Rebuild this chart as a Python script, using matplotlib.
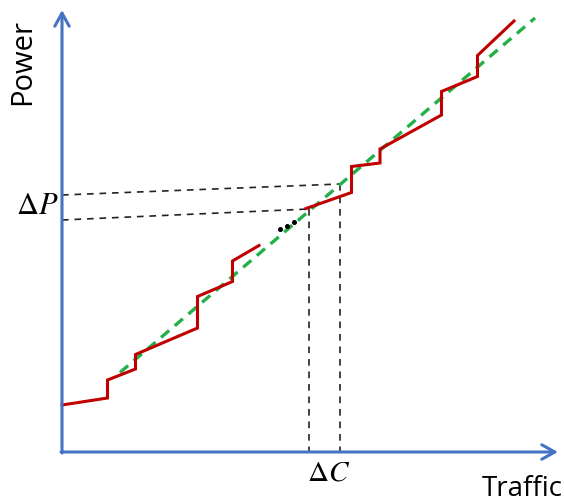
import matplotlib
matplotlib.use("Agg")
import matplotlib.pyplot as plt

plt.rcParams['mathtext.fontset'] = 'stix'

# Data (traffic, power) in arbitrary units
red1_traffic = [0.0, 9.1, 9.1, 14.7, 14.7, 27.1, 27.1, 34.1, 34.1, 39.4]
red1_power   = [9.4, 10.8, 14.4, 16.6, 19.5, 24.8, 31.1, 34.1, 38.2, 41.3]

red2_traffic = [48.8, 57.9, 57.9, 63.6, 63.6, 75.9, 75.9, 83.1, 83.1, 90.4]
red2_power   = [48.7, 51.9, 57.1, 57.8, 60.6, 67.4, 72.1, 75.1, 79.3, 86.2]

fit_traffic = [11.6, 94.6]
fit_power   = [15.9, 86.8]

dots_traffic = [43.6, 45.1, 46.5]
dots_power   = [44.6, 45.3, 46.1]

# Guide lines: (traffic, power) corners of dashed projections
lowP_left, lowP_right = 46.4, 48.6
highP_left, highP_right = 51.4, 53.6
lowC, highC = 49.4, 55.6

x_axis_end = 99.2
y_axis_end = 88.4

fig = plt.figure(figsize=(5.64, 5.02), dpi=100)
ax = fig.add_axes([0, 0, 1, 1])
ax.set_xlim(-12.4, 100.4)
ax.set_ylim(-9.8, 90.6)
ax.axis('off')

blue = '#4472C4'
red = '#C00000'
green = '#22B04B'

# dashed guide lines
kw = dict(color='#222222', lw=1.2, linestyle=(0, (4, 3.5)))
ax.plot([0, highC], [highP_left, highP_right], **kw)
ax.plot([highC, highC], [highP_right, 0], **kw)
ax.plot([0, lowC], [lowP_left, lowP_right], **kw)
ax.plot([lowC, lowC], [lowP_right, 0], **kw)

# fit line
ax.plot(fit_traffic, fit_power, color=green, lw=2.4, linestyle=(0, (3.2, 2.2)))

# stepped power lines
ax.plot(red1_traffic, red1_power, color=red, lw=2.2, solid_joinstyle='miter')
ax.plot(red2_traffic, red2_power, color=red, lw=2.2, solid_joinstyle='miter')

ax.plot(dots_traffic, dots_power, 'o', color='black', ms=2.6)

# axes arrows
arrow = dict(arrowstyle='->,head_length=0.47,head_width=0.26', color=blue,
             lw=2.2, mutation_scale=20, shrinkA=0, shrinkB=0)
ax.annotate('', xy=(0, y_axis_end), xytext=(0, -0.2), arrowprops=arrow)
ax.annotate('', xy=(x_axis_end, 0), xytext=(-0.2, 0), arrowprops=arrow)

# labels
ax.text(-4.9, 49.4, r'$\Delta P$', fontsize=22, ha='center', va='center')
ax.text(53.4, -3.9, r'$\Delta C$', fontsize=21, ha='center', va='center')
ax.text(84.0, -8.6, 'Traffic', fontsize=20, family='Open Sans',
        ha='left', va='baseline')
ax.text(-7.8, 78.2, 'Power', fontsize=21, family='Open Sans',
        ha='center', va='center', rotation=90)

fig.savefig('out.png', dpi=100)
